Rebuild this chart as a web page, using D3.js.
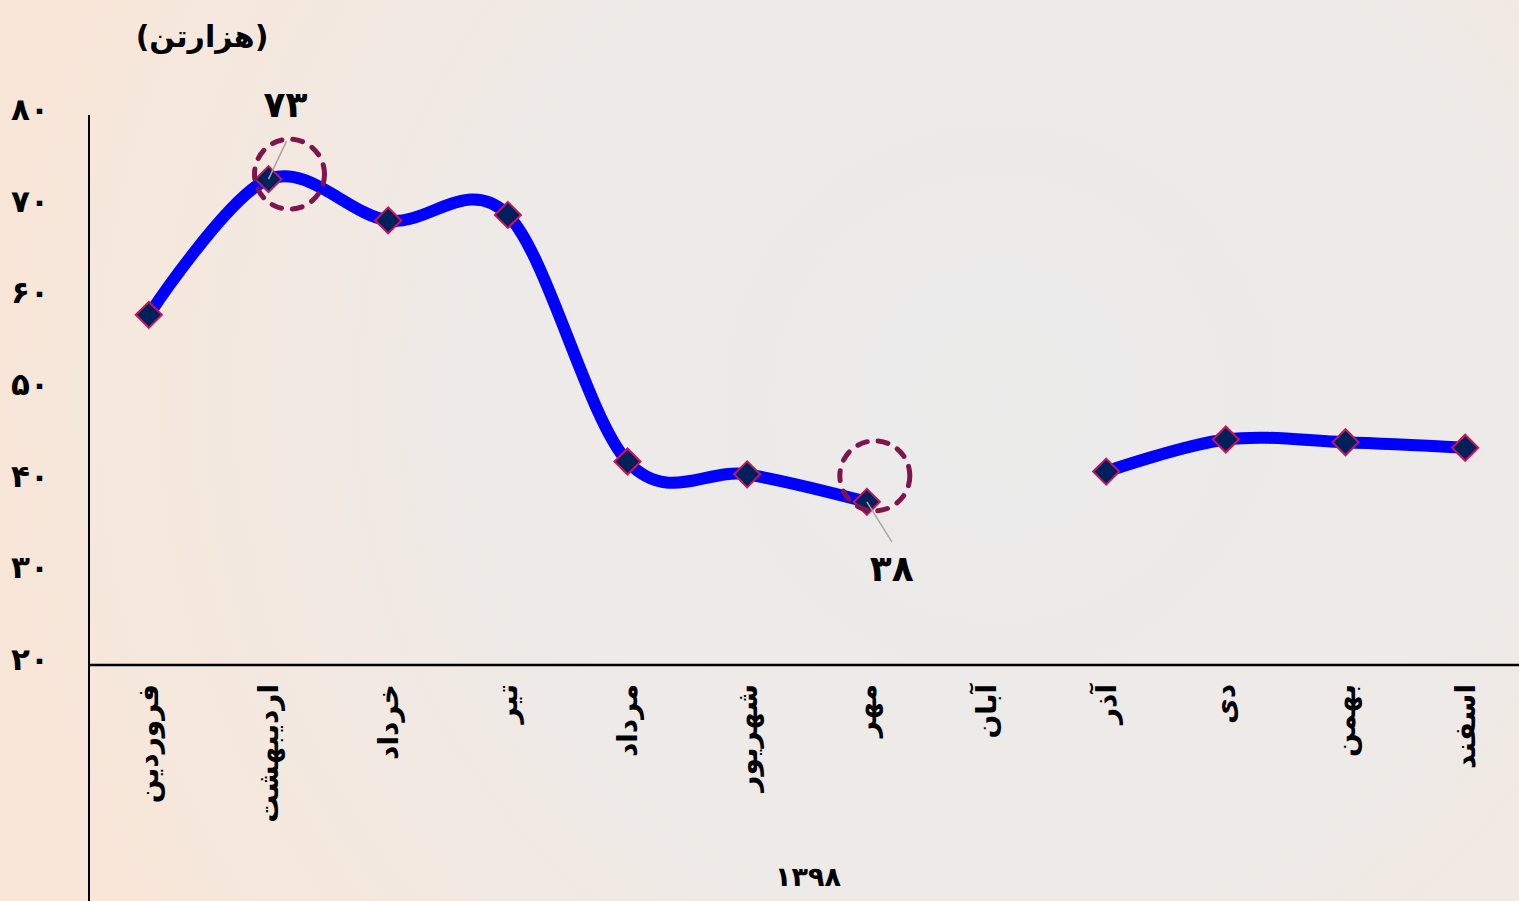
<!DOCTYPE html>
<html>
<head>
<meta charset="utf-8">
<script src="https://cdn.jsdelivr.net/npm/d3@7"></script>
<style>
html,body{margin:0;padding:0;overflow:hidden;}
svg{display:block;}
text{font-family:"DejaVu Sans","Noto Sans",sans-serif;font-weight:bold;fill:#000;}
</style>
</head>
<body>
<svg id="chart" width="1519" height="901"></svg>
<script>
const months = ["فروردین","اردیبهشت","خرداد","تیر","مرداد","شهریور","مهر","آبان","آذر","دی","بهمن","اسفند"];
const values = [58.2, 73.0, 68.5, 69.1, 42.2, 40.8, 37.8, null, 41.1, 44.6, 44.3, 43.7];
const yTicks = [20, 30, 40, 50, 60, 70, 80];
const yTickLabels = ["۲۰","۳۰","۴۰","۵۰","۶۰","۷۰","۸۰"];
const highlighted = [
  {index: 1, label: "۷۳"},
  {index: 6, label: "۳۸"}
];
const unitTitle = "(هزارتن)";
const yearLabel = "۱۳۹۸";

const W = 1519, H = 901;
const svg = d3.select("#chart");

// background
const defs = svg.append("defs");
const grad = defs.append("radialGradient").attr("id","bg")
  .attr("gradientUnits","userSpaceOnUse")
  .attr("cx",1000).attr("cy",400).attr("r",1050);
grad.append("stop").attr("offset","0").attr("stop-color","#ebebeb");
grad.append("stop").attr("offset","0.5").attr("stop-color","#eeeae7");
grad.append("stop").attr("offset","0.82").attr("stop-color","#f5e8dd");
grad.append("stop").attr("offset","1").attr("stop-color","#f8e6d7");
svg.append("rect").attr("width",W).attr("height",H).attr("fill","url(#bg)");

const x = d3.scaleBand().domain(months).range([89, 1525]);
const y = d3.scaleLinear().domain([20, 80]).range([665, 115]);
const cx = m => x(m) + x.bandwidth()/2;

// axes lines
svg.append("line").attr("x1",89).attr("x2",89).attr("y1",y(80)).attr("y2",H)
  .attr("stroke","#000").attr("stroke-width",2);
svg.append("line").attr("x1",89).attr("x2",W).attr("y1",y(20)).attr("y2",y(20))
  .attr("stroke","#000").attr("stroke-width",2.5);

// y tick labels
svg.selectAll(".ytl").data(yTicks).enter().append("text")
  .attr("class","ytl")
  .attr("x",30).attr("y",d=>y(d)-6)
  .attr("text-anchor","middle").attr("dominant-baseline","central")
  .style("font-size","31px")
  .text((d,i)=>yTickLabels[i]);

// x labels rotated
svg.selectAll(".xtl").data(months).enter().append("text")
  .attr("class","xtl")
  .attr("transform",d=>`translate(${cx(d)},684) rotate(-90)`)
  .attr("text-anchor","end").attr("dominant-baseline","central")
  .style("font-size","28px")
  .text(d=>d);

// title and year
svg.append("text").attr("x",202).attr("y",36)
  .attr("text-anchor","middle").attr("dominant-baseline","central")
  .style("font-size","30px").text(unitTitle);
svg.append("text").attr("x",808).attr("y",876)
  .attr("text-anchor","middle").attr("dominant-baseline","central")
  .style("font-size","27px").text(yearLabel);

// line
const pts = months.map((m,i)=>({m, v: values[i]}));
const line = d3.line()
  .defined(d=>d.v !== null)
  .x(d=>cx(d.m)).y(d=>y(d.v))
  .curve(d3.curveCardinal.tension(0));
svg.append("path").datum(pts).attr("d",line)
  .attr("fill","none").attr("stroke","#0000ff").attr("stroke-width",12)
  .attr("stroke-linecap","butt");

// markers
const sym = d3.symbol().type(d3.symbolSquare).size(340);
svg.selectAll(".mk").data(pts.filter(d=>d.v!==null)).enter().append("path")
  .attr("class","mk")
  .attr("d",sym)
  .attr("transform",d=>`translate(${cx(d.m)},${y(d.v)}) rotate(45)`)
  .attr("fill","#00205c").attr("stroke","#c2185b").attr("stroke-width",2);

// highlight circles, leader lines, labels
highlighted.forEach((h,k)=>{
  const m = months[h.index], v = values[h.index];
  const px = cx(m), py = y(v);
  const up = k === 0;
  const ccx = px + (up ? 21 : 8), ccy = py + (up ? -5 : -26);
  svg.append("circle").attr("cx",ccx).attr("cy",ccy).attr("r",35)
    .attr("fill","none").attr("stroke","#80144e").attr("stroke-width",5)
    .attr("stroke-dasharray","10 11").attr("stroke-linecap","round");
  const lx = px + (up ? 18 : 25), ly = py + (up ? -38 : 40);
  svg.append("line").attr("x1",px).attr("y1",py).attr("x2",lx).attr("y2",ly)
    .attr("stroke","#a6a6a6").attr("stroke-width",1.5);
  svg.append("text").attr("x",px + (up ? 17 : 25)).attr("y",py + (up ? -75 : 67))
    .attr("text-anchor","middle").attr("dominant-baseline","central")
    .style("font-size","36px").text(h.label);
});
</script>
</body>
</html>
